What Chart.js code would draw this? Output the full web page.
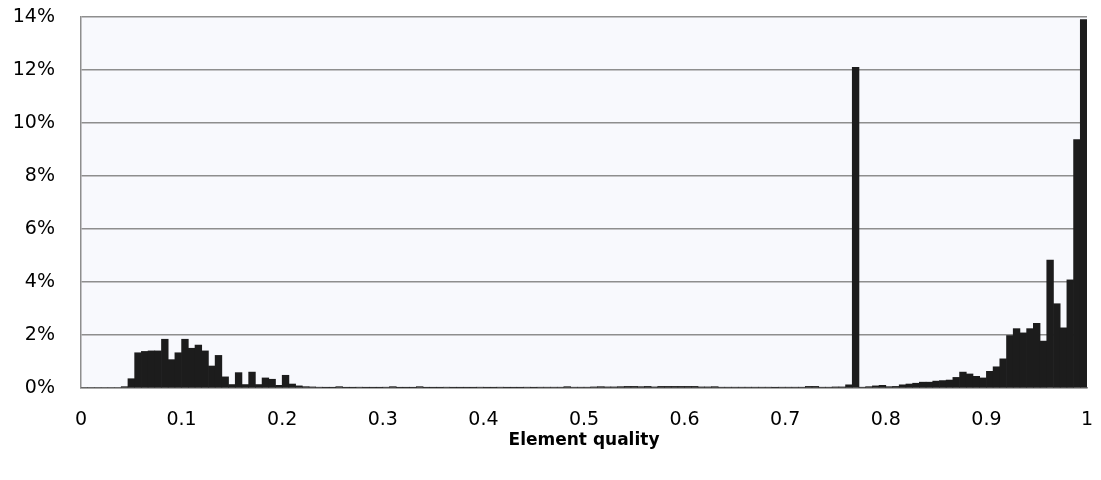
<!DOCTYPE html>
<html>
<head>
<meta charset="utf-8">
<script src="https://cdn.jsdelivr.net/npm/chart.js@4"></script>
<style>
  html, body { margin: 0; padding: 0; background: #ffffff; }
  #wrap { width: 1101px; height: 480px; }
</style>
</head>
<body>
<div id="wrap"><canvas id="qualityChart" width="1101" height="480"></canvas></div>
<script>
// Histogram of element quality, 150 bins from 0 to 1
const binCount = 150;

// share of elements per bin, in percent
const share = [
    0, 0, 0, 0, 0, 0, 0.05, 0.35, 1.33, 1.38,
    1.4, 1.4, 1.84, 1.07, 1.33, 1.84, 1.5, 1.62, 1.4, 0.83,
    1.23, 0.42, 0.13, 0.58, 0.13, 0.6, 0.13, 0.38, 0.33, 0.1,
    0.48, 0.15, 0.08, 0.05, 0.04, 0.03, 0.02, 0.02, 0.05, 0.02,
    0.02, 0.03, 0.02, 0.02, 0.02, 0.03, 0.05, 0.02, 0.02, 0.02,
    0.05, 0.02, 0.02, 0.02, 0.03, 0.02, 0.02, 0.02, 0.02, 0.03,
    0.02, 0.02, 0.03, 0.02, 0.02, 0.02, 0.03, 0.02, 0.03, 0.03,
    0.03, 0.03, 0.05, 0.03, 0.03, 0.03, 0.04, 0.05, 0.04, 0.04,
    0.05, 0.06, 0.06, 0.05, 0.06, 0.04, 0.06, 0.06, 0.06, 0.06,
    0.06, 0.06, 0.04, 0.04, 0.05, 0.03, 0.03, 0.03, 0.03, 0.03,
    0.03, 0.03, 0.03, 0.02, 0.03, 0.03, 0.03, 0.03, 0.06, 0.06,
    0.03, 0.03, 0.04, 0.04, 0.12, 12.1, 0.03, 0.05, 0.08, 0.1,
    0.05, 0.06, 0.12, 0.15, 0.18, 0.22, 0.22, 0.26, 0.28, 0.3,
    0.4, 0.6, 0.53, 0.44, 0.38, 0.63, 0.8, 1.1, 1.98, 2.24,
    2.08, 2.24, 2.44, 1.77, 4.83, 3.18, 2.27, 4.08, 9.37, 13.9
];

// bin centres on the quality axis
const binCenters = share.map((_, i) => (i + 0.5) / binCount);

const xTicks = [0, 0.1, 0.2, 0.3, 0.4, 0.5, 0.6, 0.7, 0.8, 0.9, 1];
const yTicks = [0, 2, 4, 6, 8, 10, 12, 14];

const points = share.map((v, i) => ({ x: binCenters[i], y: v }));

// light plot area background
const plotBackground = {
    id: 'plotBackground',
    beforeDraw(chart) {
        const { ctx, chartArea: a } = chart;
        ctx.save();
        ctx.fillStyle = '#f8f9fd';
        ctx.fillRect(a.left, a.top, a.right - a.left, a.bottom - a.top);
        ctx.restore();
    }
};

const tickFont = { family: 'DejaVu Sans', size: 19 };

new Chart(document.getElementById('qualityChart'), {
    type: 'bar',
    data: {
        datasets: [{
            data: points,
            backgroundColor: '#1c1c1c',
            borderWidth: 0,
            barPercentage: 1,
            categoryPercentage: 1
        }]
    },
    options: {
        responsive: false,
        animation: false,
        layout: { padding: { top: 17, right: 14, left: 0, bottom: 0 } },
        plugins: {
            legend: { display: false },
            tooltip: { enabled: false }
        },
        scales: {
            x: {
                type: 'linear',
                min: 0,
                max: 1,
                offset: false,
                afterBuildTicks: scale => { scale.ticks = xTicks.map(v => ({ value: v })); },
                afterFit: scale => {
                    scale.height = 92;
                    scale.paddingLeft = 0;
                    scale.paddingRight = 0;
                },
                grid: { display: false, offset: false, drawTicks: false },
                border: { display: true, color: '#8e8e8e', width: 1.5 },
                ticks: {
                    padding: 21,
                    color: '#000',
                    font: tickFont,
                    maxRotation: 0,
                    autoSkip: false,
                    callback: v => String(Number(v.toFixed(1)))
                },
                title: {
                    display: true,
                    text: 'Element quality',
                    color: '#000',
                    font: { family: 'DejaVu Sans', size: 17, weight: 'bold' },
                    padding: { top: 0, bottom: 29 }
                }
            },
            y: {
                min: 0,
                max: 14,
                afterBuildTicks: scale => { scale.ticks = yTicks.map(v => ({ value: v })); },
                afterFit: scale => {
                    scale.width = 81;
                    scale.paddingTop = 0;
                    scale.paddingBottom = 0;
                },
                grid: { color: '#8e8e8e', lineWidth: 1.5, drawTicks: false },
                border: { display: true, color: '#8e8e8e', width: 1.5 },
                ticks: {
                    padding: 26,
                    color: '#000',
                    font: tickFont,
                    callback: v => v + '%'
                }
            }
        }
    },
    plugins: [plotBackground]
});
</script>
</body>
</html>
